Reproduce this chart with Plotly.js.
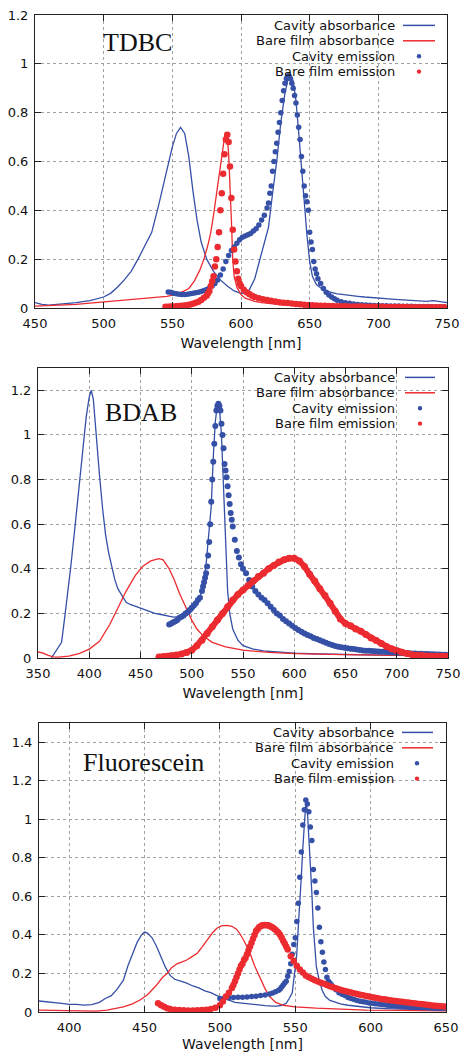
<!DOCTYPE html>
<html><head><meta charset="utf-8">
<script src="https://cdn.plot.ly/plotly-3.0.1.min.js"></script>
<style>html,body{margin:0;padding:0;background:#fff}#chart{width:461px;height:1052px}</style>
</head><body><div id="chart"></div><script>
// ---------- TDBC ----------
const tdbcCavAbsX=[450,455,460,465,470,480,490,500,505,510,515,520,525,530,535,540,545,550,553,556,559,562,565,568,571,575,580,585,590,595,600,605,610,614,617,620,623,626,629,632,634,636,638,640,642,644,646,648,650,652,655,660,665,670,675,680,685,690,695,700,705,710,715,720,725,730,735,740,745,750];
const tdbcCavAbsY=[0.022,0.015,0.012,0.014,0.016,0.022,0.03,0.045,0.06,0.085,0.115,0.15,0.2,0.255,0.31,0.42,0.54,0.66,0.715,0.74,0.715,0.62,0.48,0.36,0.27,0.2,0.15,0.115,0.09,0.07,0.06,0.062,0.12,0.2,0.26,0.33,0.47,0.6,0.76,0.88,0.93,0.955,0.93,0.85,0.72,0.58,0.43,0.3,0.19,0.13,0.095,0.075,0.065,0.058,0.055,0.05,0.048,0.045,0.042,0.04,0.038,0.036,0.034,0.033,0.03,0.028,0.027,0.03,0.025,0.022];
const tdbcBareAbsX=[450,460,470,480,490,500,510,520,530,540,546,552,558,562,566,570,573,576,578,580,582,584,586,588,589,590,591,592,593,594,595,597,600,603,606,610,615,620,630,640,650,660,680,700,720,750];
const tdbcBareAbsY=[0.008,0.01,0.012,0.015,0.02,0.025,0.03,0.035,0.04,0.045,0.048,0.055,0.068,0.08,0.11,0.155,0.2,0.26,0.31,0.38,0.46,0.55,0.63,0.7,0.72,0.7,0.63,0.52,0.36,0.2,0.13,0.085,0.055,0.04,0.033,0.027,0.022,0.018,0.013,0.01,0.008,0.006,0.005,0.004,0.003,0.003];
const tdbcCavEmX=[547,549,551,553,555,557,559,561,563,565,567,569,571,573,575,577,579,581,583,585,587,589,591,593,595,597,599,601,603,605,607,609,611,613,615,617,619,
620,621,622,623,624,625,626,627,628,629,630,631,632,633,634,635,636,637,638,639,640,641,642,643,644,645,646,647,648,649,650,651,652,653,654,655,656,
658,660,662,664,666,668,670,
673,676,679,682,685,688,691,694,697,700,703,706,709,712,715,718,721,724,727,730,733,736,739,742,745,748];
const tdbcCavEmY=[0.066,0.064,0.06,0.058,0.056,0.055,0.055,0.056,0.058,0.06,0.062,0.065,0.068,0.072,0.076,0.082,0.09,0.1,0.115,0.135,0.16,0.19,0.215,0.235,0.25,0.265,0.28,0.29,0.295,0.30,0.305,0.315,0.325,0.34,0.36,0.38,0.41,
0.43,0.47,0.5,0.56,0.6,0.64,0.675,0.72,0.76,0.8,0.85,0.89,0.92,0.94,0.95,0.95,0.94,0.92,0.9,0.87,0.84,0.79,0.74,0.69,0.62,0.56,0.5,0.46,0.435,0.4,0.31,0.27,0.24,0.19,0.16,0.14,0.12,
0.1,0.08,0.065,0.053,0.045,0.038,0.032,
0.026,0.022,0.019,0.016,0.014,0.013,0.012,0.011,0.01,0.01,0.009,0.009,0.008,0.008,0.008,0.007,0.007,0.007,0.006,0.006,0.006,0.006,0.005,0.005,0.005,0.005];
const tdbcBareEmX=[545,547,549,551,553,555,557,559,561,563,565,567,569,571,573,575,
576,577,578,579,580,581,582,583,584,585,586,587,588,589,590,591,592,593,594,595,596,597,598,599,600,
602,604,606,608,610,
613,616,619,622,625,628,631,634,637,640,643,646,649,652,655,658,661,664,667,670,673,676,679,682,685,688,691,694,697,700,703,706,709,712,715,718,721,724,727,730,733,736,739,742,745,748];
const tdbcBareEmY=[0.005,0.005,0.006,0.006,0.007,0.008,0.009,0.01,0.012,0.014,0.017,0.021,0.026,0.033,0.042,0.05,
0.06,0.07,0.09,0.11,0.13,0.17,0.2,0.25,0.31,0.4,0.47,0.55,0.63,0.69,0.71,0.68,0.58,0.45,0.32,0.24,0.19,0.15,0.12,0.1,0.09,
0.075,0.065,0.057,0.05,0.045,
0.04,0.036,0.033,0.03,0.027,0.024,0.022,0.02,0.018,0.016,0.015,0.013,0.012,0.011,0.01,0.009,0.009,0.008,0.008,0.007,0.007,0.007,0.006,0.006,0.006,0.006,0.005,0.005,0.005,0.005,0.005,0.004,0.004,0.004,0.004,0.004,0.004,0.003,0.003,0.003,0.003,0.003,0.003,0.003,0.003,0.003];

// ---------- BDAB ----------
const bdabCavAbsX=[363,366,370,373,376,379,382,385,388,391,394,397,400,402,404,407,410,413,416,419,422,425,428,432,436,440,446,452,458,464,470,476,482,488,494,500,505,508,511,514,517,519,521,523,525,527,529,531,533,535,537,540,545,550,560,570,580,600,625,650,675,700,725,750];
const bdabCavAbsY=[0,0.02,0.045,0.07,0.18,0.29,0.41,0.54,0.67,0.8,0.95,1.08,1.17,1.2,1.16,0.97,0.82,0.67,0.55,0.47,0.41,0.35,0.31,0.28,0.25,0.24,0.23,0.22,0.21,0.2,0.195,0.188,0.183,0.185,0.195,0.21,0.24,0.27,0.33,0.42,0.57,0.68,0.9,1.06,1.135,1.12,1.0,0.75,0.48,0.3,0.2,0.13,0.08,0.055,0.04,0.032,0.028,0.022,0.018,0.015,0.013,0.012,0.011,0.01];
const bdabBareAbsX=[350,355,360,365,370,380,390,400,410,420,427,436,445,452,460,468,472,478,483,488,495,500,505,510,514,520,533,550,575,600,650,700,750];
const bdabBareAbsY=[0.027,0.022,0.012,0.005,0.004,0.008,0.02,0.04,0.075,0.15,0.215,0.30,0.37,0.41,0.435,0.445,0.44,0.40,0.35,0.29,0.22,0.17,0.13,0.105,0.09,0.07,0.05,0.035,0.025,0.02,0.015,0.01,0.008];
const bdabCavEmX=[478,480,482,484,486,488,490,492,494,496,498,500,502,504,506,508,510,
511,512,513,514,515,516,517,518,519,520,521,522,523,524,525,526,527,528,529,530,531,532,533,534,535,536,537,538,539,540,
542,544,546,548,550,
553,556,559,562,565,568,571,574,577,580,583,586,589,592,595,598,601,604,607,610,613,616,619,622,625,628,631,634,637,640,643,646,649,652,655,658,661,664,667,670,673,676,679,682,685,688,691,694,697,700,703,706,709,712,715,718,721,724,727,730,733,736,739,742,745,748];
const bdabCavEmY=[0.15,0.155,0.16,0.165,0.17,0.18,0.185,0.19,0.2,0.205,0.215,0.225,0.235,0.245,0.26,0.27,0.3,
0.32,0.34,0.36,0.38,0.41,0.46,0.52,0.6,0.7,0.8,0.88,0.96,1.04,1.11,1.13,1.14,1.13,1.11,1.05,1.0,0.94,0.87,0.84,0.81,0.77,0.73,0.69,0.65,0.62,0.59,
0.53,0.48,0.45,0.42,0.4,
0.38,0.35,0.32,0.30,0.285,0.27,0.26,0.245,0.23,0.215,0.2,0.19,0.175,0.165,0.155,0.145,0.135,0.125,0.118,0.11,0.103,0.097,0.09,0.085,0.08,0.074,0.068,0.063,0.058,0.054,0.05,0.048,0.046,0.044,0.042,0.04,0.038,0.036,0.034,0.033,0.032,0.031,0.03,0.029,0.028,0.028,0.027,0.026,0.025,0.024,0.023,0.022,0.022,0.021,0.02,0.02,0.019,0.019,0.018,0.018,0.017,0.017,0.016,0.016,0.015,0.015];
const bdabBareEmX=[468,472,476,480,485,490,495,500,505,510,515,520,525,530,535,540,545,550,555,560,565,570,575,580,585,590,595,600,605,610,615,620,625,630,635,640,645,650,655,660,665,670,675,680,685,690,695,700,705,710,715,720,725,730,735,740,745,750];
const bdabBareEmY=[0.005,0.006,0.008,0.01,0.013,0.018,0.025,0.035,0.055,0.08,0.11,0.14,0.17,0.2,0.23,0.26,0.285,0.305,0.325,0.345,0.365,0.38,0.4,0.415,0.43,0.44,0.447,0.447,0.435,0.41,0.375,0.345,0.31,0.28,0.245,0.21,0.175,0.155,0.145,0.13,0.12,0.105,0.09,0.078,0.065,0.052,0.042,0.033,0.026,0.02,0.015,0.012,0.01,0.009,0.008,0.008,0.008,0.008];

// ---------- Fluorescein ----------
const flCavAbsX=[380,385,390,395,400,405,410,415,420,424,428,432,436,439,442,445,448,450,452,455,458,461,464,467,470,474,478,482,486,490,494,498,502,506,510,515,520,525,530,535,538,541,544,546,548,550,551,552,553,554,555,556,557,558,559,560,561,562,563,564,566,568,570,573,576,580,585,590,600,610,620,630,640,650];
const flCavAbsY=[0.057,0.054,0.05,0.045,0.04,0.04,0.036,0.038,0.05,0.07,0.085,0.12,0.165,0.24,0.3,0.36,0.4,0.415,0.41,0.385,0.34,0.28,0.23,0.19,0.17,0.16,0.15,0.135,0.125,0.11,0.1,0.085,0.075,0.062,0.05,0.045,0.04,0.036,0.033,0.03,0.03,0.035,0.045,0.07,0.1,0.23,0.3,0.44,0.55,0.7,0.85,0.98,1.085,1.05,0.92,0.79,0.62,0.44,0.33,0.235,0.16,0.11,0.08,0.06,0.052,0.042,0.035,0.03,0.022,0.018,0.015,0.012,0.01,0.008];
const flBareAbsX=[380,390,400,410,418,425,430,436,442,447,452,458,462,465,468,471.5,475,478,481,485,488,491.5,495,498,501,504.7,508,511,513,516,520,523,526.6,530,533,537,542,550,564,580,597,620,650];
const flBareAbsY=[0.01,0.008,0.006,0.005,0.005,0.01,0.016,0.026,0.042,0.062,0.09,0.14,0.18,0.2,0.23,0.25,0.26,0.27,0.285,0.305,0.335,0.375,0.41,0.435,0.447,0.45,0.445,0.43,0.41,0.37,0.305,0.24,0.18,0.12,0.08,0.05,0.035,0.027,0.02,0.014,0.01,0.008,0.006];
const flCavEmX=[500,503,506,509,512,515,518,521,524,527,530,533,535,537,539,
540,541,542,543,544,545,546,547,548,549,550,551,552,553,554,555,556,557,558,559,560,561,562,563,564,565,566,567,568,569,570,571,572,573,574,575,
577,579,581,583,585,587,589,591,593,595,597,599,601,603,605,607,609,611,613,615,617,619,621,623,625,627,629,631,633,635,637,639,641,643,645,647,649];
const flCavEmY=[0.07,0.072,0.074,0.075,0.076,0.077,0.078,0.08,0.082,0.085,0.088,0.093,0.098,0.105,0.113,
0.12,0.13,0.14,0.15,0.16,0.185,0.21,0.25,0.3,0.35,0.385,0.47,0.565,0.7,0.83,0.97,1.05,1.1,1.08,1.04,0.96,0.89,0.74,0.68,0.62,0.54,0.44,0.365,0.31,0.26,0.22,0.18,0.16,0.15,0.14,0.13,
0.115,0.1,0.092,0.085,0.075,0.07,0.065,0.06,0.056,0.053,0.05,0.047,0.045,0.043,0.041,0.039,0.037,0.035,0.034,0.033,0.031,0.03,0.029,0.028,0.027,0.026,0.025,0.024,0.023,0.022,0.022,0.021,0.021,0.02,0.02,0.02,0.019];
const flBareEmX=[459,461,463,465,467,470,473,476,479,482,485,488,491,494,497,500,502,504,506,508,
509,510,511,512,513,514,515,516,517,518,519,520,521,522,523,524,525,526,527,528,529,530,531,532,533,534,535,536,537,538,539,540,541,542,543,544,545,
547,549,551,553,555,557,559,561,563,565,567,569,571,573,575,577,579,581,583,585,587,589,591,593,595,597,599,601,603,605,607,609,611,613,615,617,619,621,623,625,627,629,631,633,635,637,639,641,643,645,647,649];
const flBareEmY=[0.045,0.035,0.027,0.02,0.016,0.012,0.01,0.009,0.008,0.008,0.009,0.01,0.012,0.016,0.022,0.035,0.055,0.08,0.1,0.125,
0.14,0.16,0.18,0.2,0.22,0.24,0.25,0.27,0.28,0.3,0.32,0.34,0.36,0.38,0.4,0.42,0.43,0.44,0.445,0.45,0.45,0.452,0.45,0.45,0.447,0.443,0.438,0.432,0.425,0.418,0.41,0.4,0.385,0.37,0.355,0.34,0.325,
0.29,0.265,0.24,0.22,0.205,0.19,0.18,0.172,0.165,0.158,0.152,0.146,0.14,0.134,0.128,0.123,0.118,0.113,0.109,0.105,0.101,0.097,0.093,0.09,0.087,0.083,0.08,0.077,0.074,0.071,0.068,0.066,0.063,0.061,0.059,0.057,0.055,0.053,0.051,0.049,0.047,0.045,0.043,0.041,0.04,0.038,0.036,0.034,0.033,0.031,0.03,0.028];

const seriesNames=['Cavity absorbance','Bare film absorbance','Cavity emission','Bare film emission'];
const sampleNames=['TDBC','BDAB','Fluorescein'];
const xRanges=[[450,750],[350,750],[380,650]];
const yRanges=[[0,1.2],[0,1.3],[0,1.5]];

const BLUE='#3550a6', RED='#ec2b30';
const W=461,H=1052;
const px=v=>v/W, py=v=>1-v/H;
// plot boxes in pixels: [left,right,top,bottom]
const boxes=[[35,447,15,308],[38,448,368,658],[39,446,723,1012]];

const data=[
 [tdbcCavAbsX,tdbcCavAbsY,tdbcBareAbsX,tdbcBareAbsY,tdbcCavEmX,tdbcCavEmY,tdbcBareEmX,tdbcBareEmY,5.5,false],
 [bdabCavAbsX,bdabCavAbsY,bdabBareAbsX,bdabBareAbsY,bdabCavEmX,bdabCavEmY,bdabBareEmX,bdabBareEmY,6,true],
 [flCavAbsX,flCavAbsY,flBareAbsX,flBareAbsY,flCavEmX,flCavEmY,flBareEmX,flBareEmY,5.5,false]
];
const traces=[];
data.forEach((d,i)=>{
  const xa='x'+(i?i+1:''), ya='y'+(i?i+1:'');
  traces.push({x:d[0],y:d[1],mode:'lines',line:{color:BLUE,width:1.3},xaxis:xa,yaxis:ya,name:seriesNames[0],showlegend:false});
  traces.push({x:d[2],y:d[3],mode:'lines',line:{color:RED,width:1.3},xaxis:xa,yaxis:ya,name:seriesNames[1],showlegend:false});
  traces.push({x:d[4],y:d[5],mode:'markers',marker:{color:BLUE,size:d[8]},xaxis:xa,yaxis:ya,name:seriesNames[2],showlegend:false});
  traces.push({x:d[6],y:d[7],mode:d[9]?'lines+markers':'markers',line:{color:RED,width:6},marker:{color:RED,size:d[8]+1},xaxis:xa,yaxis:ya,name:seriesNames[3],showlegend:false});
});

const layout={width:W,height:H,margin:{l:0,r:0,t:0,b:0},paper_bgcolor:'#fff',plot_bgcolor:'#fff',
  font:{family:'DejaVu Sans',color:'#111',size:13},showlegend:false,annotations:[],shapes:[]};
const tickFont={family:'DejaVu Sans',size:13,color:'#111'};
boxes.forEach((b,i)=>{
  const s=i?String(i+1):'';
  layout['xaxis'+s]={domain:[px(b[0]),px(b[1])],range:xRanges[i],anchor:'y'+s,dtick:50,tick0:0,
    ticks:'inside',ticklen:6,tickcolor:'#222',showline:true,linecolor:'#222',linewidth:1,mirror:'ticks',
    showgrid:true,gridcolor:'#a0a0a0',griddash:'dot',gridwidth:1,zeroline:false,tickfont:tickFont,ticklabelstandoff:3,
    title:{text:'Wavelength [nm]',font:{family:'DejaVu Sans',size:14,color:'#111'},standoff:8}};
  layout['yaxis'+s]={domain:[py(b[3]),py(b[2])],range:yRanges[i],anchor:'x'+s,dtick:0.2,tick0:0,
    ticks:'inside',ticklen:6,tickcolor:'#222',showline:true,linecolor:'#222',linewidth:1,mirror:'ticks',
    showgrid:true,gridcolor:'#a0a0a0',griddash:'dot',gridwidth:1,zeroline:false,tickfont:tickFont,ticklabelstandoff:3};
});
// legends (gnuplot style: text right-aligned, sample to the right)
const legMid=[48.5,400.5,755.5], legStep=15.4;
const legText=[397,397,396], legLine=[[403,435],[405,435],[402,433]], legDot=[419,420,417];
const nameXY=[[137,43],[141,412],[143,762]];
legMid.forEach((m,i)=>{
  [-1.5,-0.5,0.5,1.5].forEach((k,j)=>{
    const r=m+k*legStep;
    layout.annotations.push({xref:'paper',yref:'paper',x:px(legText[i]),y:py(r),xanchor:'right',yanchor:'middle',
      text:seriesNames[j],showarrow:false,font:{family:'DejaVu Sans',size:13,color:'#111'}});
    const col=(j%2===0)?BLUE:RED;
    if(j<2){
      layout.shapes.push({type:'line',xref:'paper',yref:'paper',x0:px(legLine[i][0]),x1:px(legLine[i][1]),y0:py(r),y1:py(r),line:{color:col,width:1.5}});
    } else {
      layout.shapes.push({type:'circle',xref:'paper',yref:'paper',x0:px(legDot[i]-2.2),x1:px(legDot[i]+2.2),y0:py(r-2.2),y1:py(r+2.2),fillcolor:col,line:{width:0}});
    }
  });
  layout.annotations.push({xref:'paper',yref:'paper',x:px(nameXY[i][0]),y:py(nameXY[i][1]),xanchor:'center',yanchor:'middle',
    text:sampleNames[i],showarrow:false,font:{family:'Liberation Serif',size:26,color:'#111'}});
});
Plotly.newPlot('chart',traces,layout,{staticPlot:true,displayModeBar:false});
</script></body></html>
